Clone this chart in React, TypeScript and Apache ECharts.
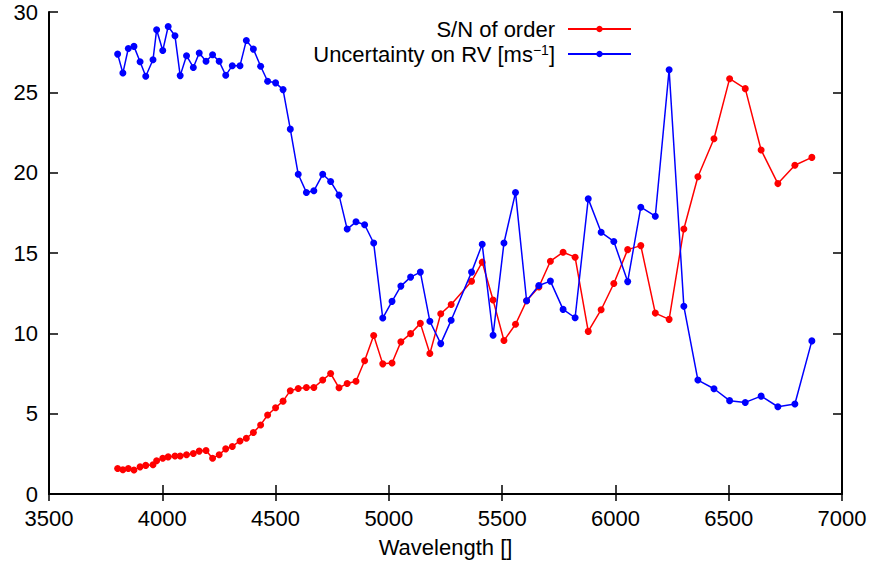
import React, { useEffect, useRef } from "react";
import * as echarts from "echarts";

const wavelengths = [
  3803, 3826, 3850, 3875, 3902, 3927, 3959, 3975, 4002, 4026,
  4056, 4079, 4107, 4137, 4163, 4193, 4222, 4251, 4280, 4309,
  4343, 4371, 4402, 4434, 4465, 4500, 4533, 4565, 4600, 4636,
  4669, 4708, 4743, 4780, 4816, 4855, 4893, 4933, 4973, 5014,
  5053, 5096, 5139, 5181, 5229, 5275, 5365, 5412, 5460, 5508,
  5559, 5608, 5662, 5713, 5769, 5822, 5880, 5937, 5993, 6054,
  6112, 6176, 6237, 6302, 6364, 6435, 6504, 6573, 6643, 6717,
  6792, 6867,
];

const snOfOrder = [
  1.59, 1.51, 1.59, 1.49, 1.69, 1.78, 1.82, 2.07, 2.23, 2.31,
  2.37, 2.37, 2.44, 2.52, 2.67, 2.71, 2.23, 2.44, 2.81, 2.96,
  3.3, 3.47, 3.83, 4.3, 4.92, 5.37, 5.78, 6.43, 6.57, 6.63,
  6.63, 7.09, 7.5, 6.61, 6.88, 7.02, 8.29, 9.86, 8.1, 8.15,
  9.47, 9.98, 10.62, 8.74, 11.22, 11.8, 13.24, 14.43, 12.07, 9.55,
  10.56, 12.03, 12.88, 14.49, 15.05, 14.74, 10.12, 11.47, 13.1, 15.21,
  15.46, 11.26, 10.87, 16.49, 19.75, 22.11, 25.85, 25.23, 21.41, 19.32,
  20.46, 20.95,
];

const rvUncertainty = [
  27.38, 26.2, 27.73, 27.86, 26.9, 26.0, 27.03, 28.89, 27.6, 29.1,
  28.52, 26.04, 27.28, 26.55, 27.45, 26.93, 27.34, 26.93, 26.06, 26.66,
  26.66, 28.23, 27.69, 26.62, 25.69, 25.59, 25.17, 22.71, 19.9, 18.77,
  18.87, 19.9, 19.45, 18.6, 16.49, 16.94, 16.76, 15.62, 10.95, 11.99,
  12.94, 13.5, 13.81, 10.75, 9.36, 10.81, 13.81, 15.54, 9.88, 15.62,
  18.76, 12.03, 12.98, 13.25, 11.49, 10.97, 18.37, 16.29, 15.72, 13.22,
  17.85, 17.29, 26.41, 11.68, 7.09, 6.55, 5.81, 5.7, 6.09, 5.43,
  5.6, 9.53,
];

const SN_NAME = "S/N of order";
const RV_NAME = "Uncertainty on RV [ms−1]";

const FONT = "'Liberation Sans', Arial, Helvetica, sans-serif";

export default function App() {
  const ref = useRef<HTMLDivElement>(null);

  useEffect(() => {
    if (!ref.current) return;
    const chart = echarts.init(ref.current, null, { renderer: "svg" });

    const axisLine = { show: true, lineStyle: { color: "#000", width: 2 } };
    const tick = (len: number) => ({
      show: true,
      inside: true,
      length: len,
      lineStyle: { color: "#000", width: 1.5 },
    });

    const legendCommon = {
      orient: "horizontal",
      align: "right",
      right: 239,
      padding: 0,
      itemWidth: 63,
      itemHeight: 8,
      textStyle: {
        fontFamily: FONT,
        fontSize: 22,
        color: "#000",
        lineHeight: 22,
        padding: [0, 8, 0, 0],
        rich: {
          sup: {
            fontSize: 14,
            fontFamily: FONT,
            color: "#000",
            lineHeight: 6,
            verticalAlign: "top",
          },
        },
      },
      formatter: (name: string) =>
        name === RV_NAME ? "Uncertainty on RV [ms{sup|−1}]" : name,
    };

    chart.setOption({
      animation: false,
      backgroundColor: "#fff",
      grid: { left: 49, right: 29, top: 12, bottom: 67, containLabel: false },
      legend: [
        { ...legendCommon, data: [SN_NAME], top: 18 },
        { ...legendCommon, data: [RV_NAME], top: 43 },
      ],
      xAxis: [
        {
          type: "value",
          min: 3500,
          max: 7000,
          interval: 500,
          position: "bottom",
          name: "Wavelength []",
          nameLocation: "middle",
          nameGap: 42,
          nameTextStyle: { fontFamily: FONT, fontSize: 22, color: "#000" },
          axisLine,
          axisTick: tick(9),
          axisLabel: {
            fontFamily: FONT,
            fontSize: 22,
            color: "#000",
            margin: 13,
            formatter: (v: number) => String(v),
          },
          splitLine: { show: false },
        },
        {
          type: "value",
          min: 3500,
          max: 7000,
          interval: 500,
          position: "top",
          axisLine,
          axisTick: tick(7),
          axisLabel: { show: false },
          splitLine: { show: false },
        },
      ],
      yAxis: [
        {
          type: "value",
          min: 0,
          max: 30,
          interval: 5,
          position: "left",
          axisLine,
          axisTick: tick(9),
          axisLabel: {
            fontFamily: FONT,
            fontSize: 22,
            color: "#000",
            margin: 11,
            formatter: (v: number) => String(v),
          },
          splitLine: { show: false },
        },
        {
          type: "value",
          min: 0,
          max: 30,
          interval: 5,
          position: "right",
          axisLine,
          axisTick: tick(9),
          axisLabel: { show: false },
          splitLine: { show: false },
        },
      ],
      series: [
        {
          name: SN_NAME,
          type: "line",
          data: wavelengths.map((w, i) => [w, snOfOrder[i]]),
          symbol: "circle",
          symbolSize: 7,
          color: "#ff0000",
          lineStyle: { color: "#ff0000", width: 1.5 },
          itemStyle: { color: "#ff0000" },
          z: 2,
        },
        {
          name: RV_NAME,
          type: "line",
          data: wavelengths.map((w, i) => [w, rvUncertainty[i]]),
          symbol: "circle",
          symbolSize: 7,
          color: "#0000ff",
          lineStyle: { color: "#0000ff", width: 1.5 },
          itemStyle: { color: "#0000ff" },
          z: 3,
        },
      ],
    });

    return () => chart.dispose();
  }, []);

  return (
    <div
      ref={ref}
      style={{ position: "absolute", left: 0, top: 0, width: 871, height: 563, background: "#fff" }}
    />
  );
}
